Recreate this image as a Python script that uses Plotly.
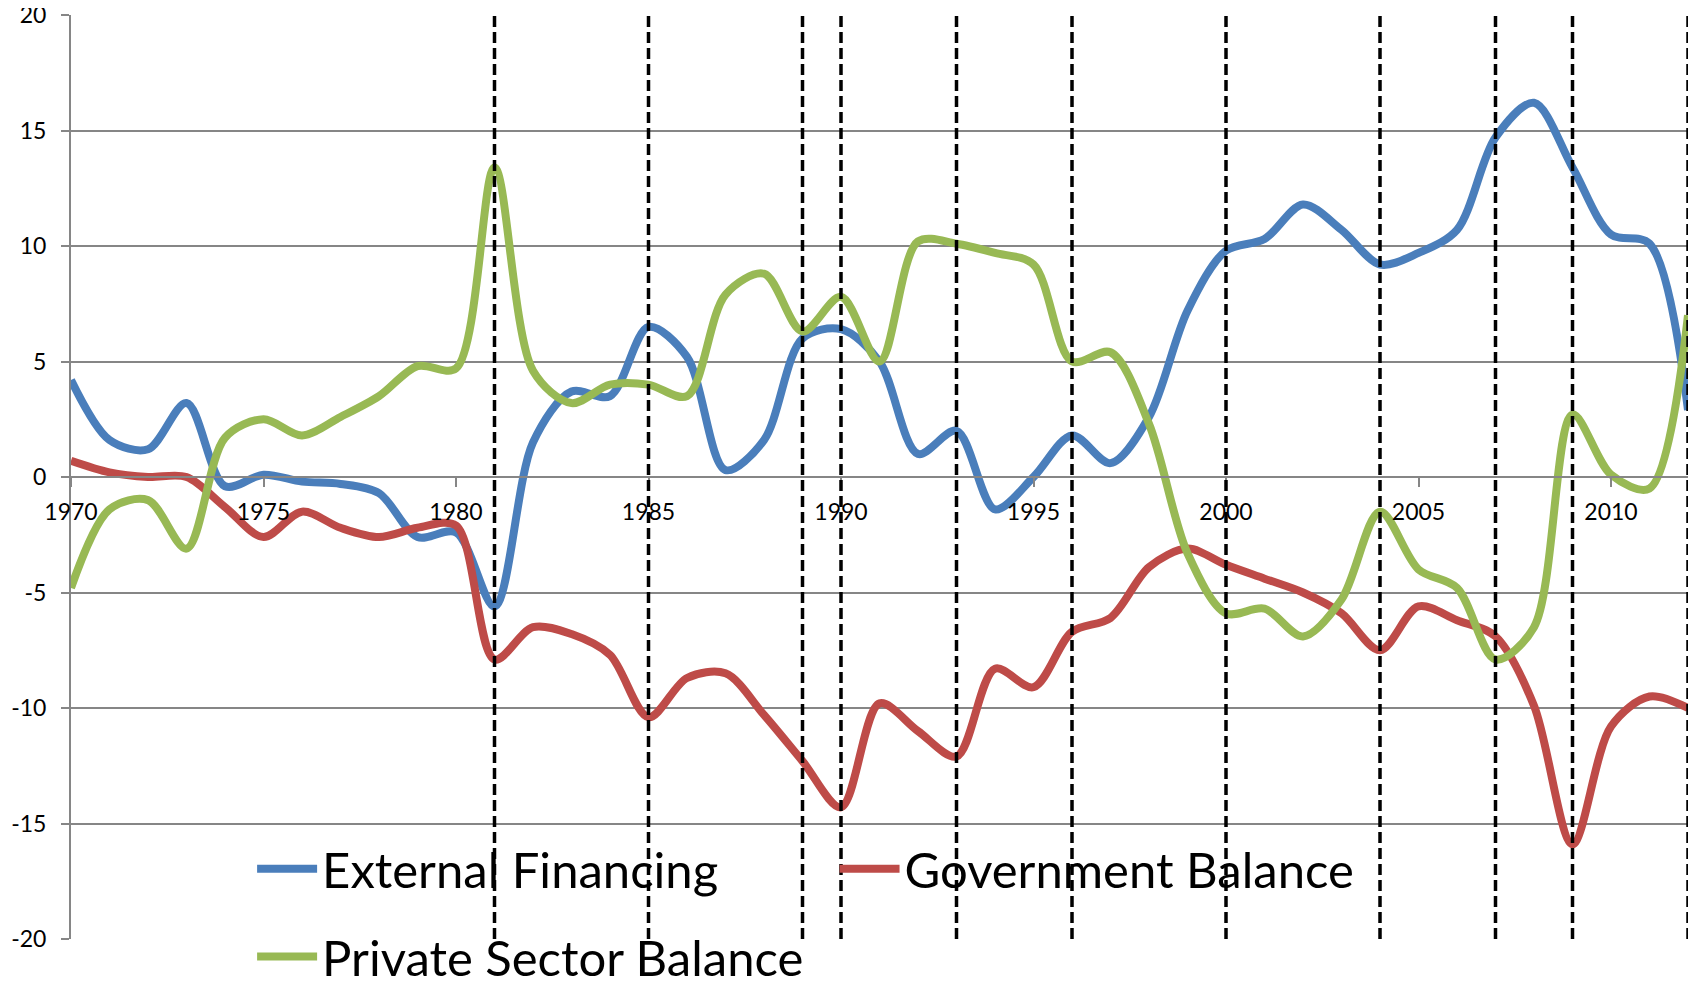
import plotly.graph_objects as go

years = list(range(1970, 2013))

external_financing = [
    4.2, 1.6, 1.2, 3.2, -0.4, 0.1, -0.2, -0.3, -0.7, -2.6, -2.4,
    -5.6, 1.5, 3.7, 3.5, 6.5, 5.2, 0.3, 1.6, 6.0, 6.4,
    5.0, 1.0, 2.0, -1.4, 0.0, 1.8, 0.6, 2.6, 7.2, 9.8,
    10.3, 11.8, 10.7, 9.2, 9.7, 10.7, 14.7, 16.2, 13.4, 10.5,
    10.1, 2.9,
]

government_balance = [
    0.7, 0.2, 0.0, 0.0, -1.3, -2.6, -1.5, -2.2, -2.6, -2.2, -2.1,
    -7.9, -6.5, -6.8, -7.7, -10.4, -8.7, -8.5, -10.3, -12.3, -14.3,
    -9.8, -11.0, -12.1, -8.3, -9.1, -6.7, -6.1, -3.9, -3.1, -3.8,
    -4.4, -5.0, -5.9, -7.5, -5.6, -6.2, -6.9, -9.9, -15.9, -10.8,
    -9.5, -10.0,
]

private_sector_balance = [
    -4.8, -1.4, -1.0, -3.1, 1.7, 2.5, 1.8, 2.6, 3.5, 4.8, 4.7,
    13.4, 4.6, 3.2, 4.0, 4.0, 3.5, 7.9, 8.8, 6.3, 7.8,
    5.0, 10.2, 10.1, 9.7, 9.2, 5.0, 5.4, 2.3, -3.3, -5.9,
    -5.7, -6.9, -5.3, -1.5, -4.0, -4.8, -7.9, -6.5, 2.7, 0.1,
    -0.5, 7.0,
]

marked_years = [1981, 1985, 1989, 1990, 1993, 1996, 2000, 2004, 2007, 2009, 2012]

y_ticks = [-20, -15, -10, -5, 0, 5, 10, 15, 20]
y_tick_labels = ["-20", "-15", "-10", "-5", "0", "5", "10", "15", "20"]

series = [
    ("External Financing", external_financing, "#4A7EBB", "legend"),
    ("Government Balance", government_balance, "#BE4B48", "legend2"),
    ("Private Sector Balance", private_sector_balance, "#98B954", "legend3"),
]

FONT = "Lato, 'Open Sans', sans-serif"
GRID = "#868686"

fig = go.Figure()
for name, values, color, leg in series:
    fig.add_trace(
        go.Scatter(
            x=years,
            y=values,
            mode="lines",
            name=name,
            legend=leg,
            showlegend=True,
            line={"color": color, "width": 8, "shape": "spline", "smoothing": 0.9},
        )
    )

# dashed year markers; yref paper so the one on the right edge is not clipped
for yr in marked_years:
    fig.add_shape(
        type="line",
        xref="x",
        yref="paper",
        x0=yr,
        x1=yr,
        y0=0,
        y1=1,
        line={"color": "black", "width": 3.5, "dash": "11px,5px"},
        layer="above",
    )

legend_style = {
    "font": {"family": FONT, "size": 49, "color": "black"},
    "bgcolor": "rgba(0,0,0,0)",
    "itemwidth": 60,
    "xanchor": "left",
    "yanchor": "middle",
    "visible": True,
}

# the page puts the figure 8px in from the top-left corner
fig.update_layout(
    width=1688,
    height=973,
    margin={"l": 63, "r": 8, "t": 7, "b": 42, "autoexpand": False},
    paper_bgcolor="white",
    plot_bgcolor="white",
    showlegend=True,
    font={"family": FONT, "size": 23, "color": "black"},
    legend={**legend_style, "x": 0.112, "y": 0.076},
    legend2={**legend_style, "x": 0.4722, "y": 0.076},
    legend3={**legend_style, "x": 0.112, "y": -0.019},
    xaxis={
        "range": [1970, 2012],
        "tick0": 1970,
        "dtick": 5,
        "showgrid": False,
        "zeroline": False,
        "showline": True,
        "linecolor": GRID,
        "linewidth": 2,
        "ticks": "outside",
        "ticklen": 9,
        "tickcolor": GRID,
        "tickwidth": 2,
        "anchor": "free",
        "position": 0.5,
        "ticklabelstandoff": 5,
        "ticklabeloverflow": "allow",
        "tickfont": {"family": FONT, "size": 23},
    },
    yaxis={
        "range": [-20, 20],
        "tickvals": y_ticks,
        "ticktext": y_tick_labels,
        "showgrid": True,
        "gridcolor": GRID,
        "gridwidth": 2,
        "zeroline": False,
        "showline": True,
        "linecolor": GRID,
        "linewidth": 2,
        "ticks": "outside",
        "ticklen": 8,
        "tickcolor": GRID,
        "tickwidth": 2,
        "ticklabelstandoff": 10,
        "ticklabeloverflow": "allow",
        "tickfont": {"family": FONT, "size": 23},
    },
)

fig.write_html("out.html")
